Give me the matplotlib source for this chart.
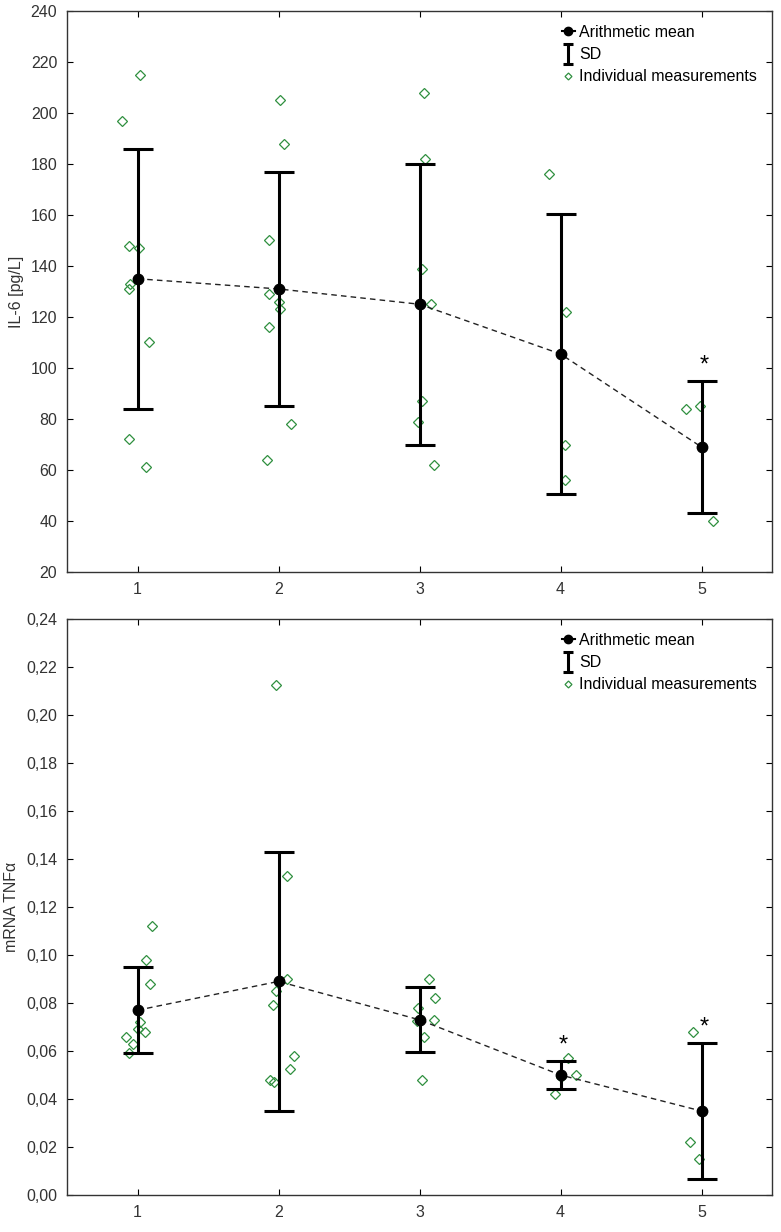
import numpy as np
import matplotlib.pyplot as plt
from matplotlib.lines import Line2D
from matplotlib.path import Path
from matplotlib.ticker import FuncFormatter

plt.rcParams['font.family'] = ['Liberation Sans', 'DejaVu Sans']

groups = [1, 2, 3, 4, 5]

# IL-6 [pg/L]
il6_mean = [135, 131, 125, 105.5, 69]
il6_sd = [51, 46, 55, 55, 26]
il6_points = [
    [215, 197, 148, 147, 133, 131, 110, 72, 61],
    [205, 188, 150, 129, 126, 123, 116, 78, 64],
    [208, 182, 139, 125, 87, 79, 62],
    [176, 122, 70, 56],
    [85, 84, 40],
]
il6_jitter = [
    [0.02, -0.11, -0.06, 0.01, -0.05, -0.06, 0.08, -0.06, 0.06],
    [0.01, 0.04, -0.07, -0.07, 0.0, 0.01, -0.07, 0.09, -0.08],
    [0.03, 0.04, 0.02, 0.08, 0.02, -0.01, 0.10],
    [-0.08, 0.04, 0.03, 0.03],
    [-0.01, -0.11, 0.08],
]
il6_signif = [5]

# mRNA TNF-alpha
tnf_mean = [0.077, 0.089, 0.073, 0.050, 0.035]
tnf_sd = [0.018, 0.054, 0.0135, 0.006, 0.0285]
tnf_points = [
    [0.112, 0.098, 0.088, 0.072, 0.069, 0.068, 0.066, 0.063, 0.059],
    [0.2125, 0.133, 0.090, 0.085, 0.079, 0.058, 0.0525, 0.048, 0.047],
    [0.090, 0.082, 0.078, 0.0725, 0.073, 0.066, 0.048],
    [0.057, 0.050, 0.042, 0.049],
    [0.068, 0.022, 0.015],
]
tnf_jitter = [
    [0.10, 0.06, 0.09, 0.02, 0.0, 0.05, -0.08, -0.03, -0.06],
    [-0.02, 0.06, 0.06, -0.02, -0.04, 0.11, 0.08, -0.06, -0.03],
    [0.07, 0.11, -0.01, -0.02, 0.10, 0.03, 0.02],
    [0.05, 0.11, -0.04, 0.0],
    [-0.06, -0.08, -0.02],
]
tnf_signif = [4, 5]

green = '#2f8f3f'
ibar = Path([(-0.5, 1), (0.5, 1), (0, 1), (0, -1), (-0.5, -1), (0.5, -1)],
            [Path.MOVETO, Path.LINETO, Path.MOVETO, Path.LINETO, Path.MOVETO, Path.LINETO])


def panel(ax, mean, sd, points, jitter, signif, ylim, yticks, ylabel, fmt):
    for g, vals, jit in zip(groups, points, jitter):
        ax.plot(np.array(jit) + g, vals, ls='none', marker='D', ms=5, mfc='none',
                mec=green, mew=0.9, zorder=2)
    ax.plot(groups, mean, ls=(0, (4, 3)), color='#222222', lw=1.0, zorder=3)
    ax.errorbar(groups, mean, yerr=sd, fmt='o', color='black', ms=7.5, elinewidth=2.2,
                capsize=11, capthick=2.2, zorder=4)
    for g in signif:
        i = groups.index(g)
        ax.annotate('*', (g, mean[i] + sd[i]), xytext=(2, 3), textcoords='offset points',
                    ha='center', va='bottom', fontsize=17)
    ax.set_xlim(0.5, 5.5)
    ax.set_ylim(*ylim)
    ax.set_xticks(groups)
    ax.set_yticks(yticks)
    ax.yaxis.set_major_formatter(FuncFormatter(fmt))
    ax.tick_params(direction='in', top=True, right=True, length=4, labelsize=11.5,
                   labelcolor='#333333', pad=7)
    ax.set_ylabel(ylabel, fontsize=11.5, color='#333333', labelpad=5)
    for s in ax.spines.values():
        s.set_linewidth(1.0)
        s.set_color('#333333')
    handles = [
        Line2D([], [], color='black', marker='o', ms=6, lw=1.5),
        Line2D([], [], color='black', marker=ibar, ms=15, mew=2.2, ls='none'),
        Line2D([], [], ls='none', marker='D', ms=3.5, mfc='none', mec=green, mew=0.9),
    ]
    ax.legend(handles, ['Arithmetic mean', 'SD', 'Individual measurements'],
              loc='upper right', bbox_to_anchor=(0.995, 0.995), frameon=False, fontsize=11.5,
              handlelength=0.8, handletextpad=0.3, labelspacing=0.45, borderaxespad=0.3)


fig = plt.figure(figsize=(7.81, 12.32), dpi=100)
ax1 = fig.add_axes([0.0858, 0.5357, 0.9027, 0.4554])
ax2 = fig.add_axes([0.0858, 0.0300, 0.9027, 0.4676])

panel(ax1, il6_mean, il6_sd, il6_points, il6_jitter, il6_signif,
      (20, 240), np.arange(20, 241, 20), 'IL-6 [pg/L]', lambda v, p: f'{v:.0f}')
panel(ax2, tnf_mean, tnf_sd, tnf_points, tnf_jitter, tnf_signif,
      (0, 0.24), np.arange(0, 0.241, 0.02), 'mRNA TNF\u03b1',
      lambda v, p: f'{v:.2f}'.replace('.', ','))

fig.savefig('out.png', dpi=100)
